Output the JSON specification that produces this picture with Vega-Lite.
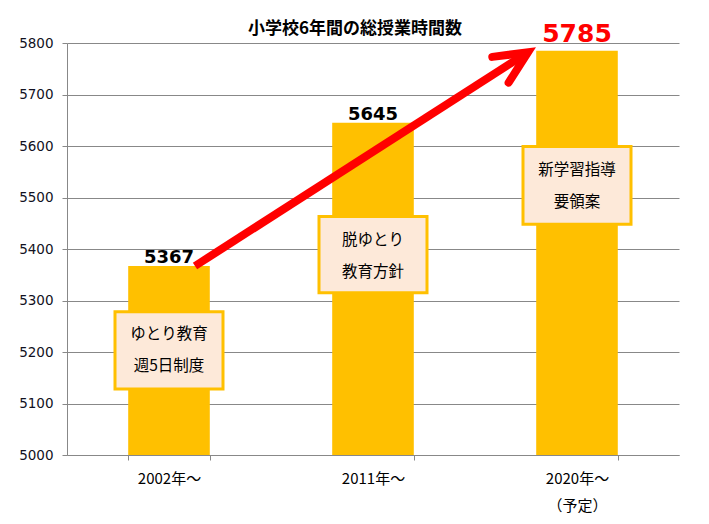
{
  "$schema": "https://vega.github.io/schema/vega-lite/v6.json",
  "width": 612,
  "height": 412,
  "autosize": {"type": "none"},
  "padding": {"left": 67, "top": 43, "right": 30, "bottom": 69},
  "background": "white",
  "title": {
    "text": "小学校6年間の総授業時間数",
    "font": "Noto Sans CJK JP",
    "fontSize": 17,
    "fontWeight": "bold",
    "color": "#000000",
    "anchor": "middle",
    "frame": "group",
    "dx": -18,
    "dy": 22,
    "offset": 6
  },
  "config": {
    "view": {"stroke": null},
    "axisY": {
      "title": null,
      "grid": true,
      "gridColor": "#888888",
      "domainColor": "#888888",
      "tickColor": "#888888",
      "tickSize": 5,
      "labelFont": "DejaVu Sans",
      "labelFontSize": 13.5,
      "labelColor": "#111122",
      "labelPadding": 9
    },
    "axisX": {
      "title": null,
      "grid": false,
      "labelAngle": 0,
      "domainColor": "#888888",
      "tickColor": "#888888",
      "tickSize": 5,
      "tickBand": "extent",
      "labelFont": "Noto Sans CJK JP",
      "labelFontSize": 15,
      "labelColor": "#000000",
      "labelPadding": 11,
      "labelLineHeight": 27
    }
  },
  "datasets": {
    "bars": [
      {"year": "2002年～", "hours": 5367, "note": "ゆとり教育\n週5日制度", "boxLow": 5128, "boxHigh": 5278, "noteY": 5203},
      {"year": "2011年～", "hours": 5645, "note": "脱ゆとり\n教育方針", "boxLow": 5315, "boxHigh": 5463, "noteY": 5386},
      {"year": "2020年～", "hours": 5785, "note": "新学習指導\n要領案", "boxLow": 5448, "boxHigh": 5599, "noteY": 5523}
    ],
    "arrow": [
      {"from": "2002年～", "to": "2020年～", "start": 5367, "end": 5782}
    ]
  },
  "layer": [
    {
      "data": {"name": "bars"},
      "mark": {"type": "bar", "color": "#FFC000"},
      "encoding": {
        "x": {
          "field": "year",
          "type": "nominal",
          "scale": {"domain": ["2002年～", "2011年～", "2020年～"], "paddingInner": 0.6, "paddingOuter": 0.3},
          "axis": {"labelExpr": "datum.value == '2020年～' ? ['2020年～', '（予定）'] : datum.value"}
        },
        "y": {
          "field": "hours",
          "type": "quantitative",
          "scale": {"domain": [5000, 5800], "nice": false, "zero": false},
          "axis": {"values": [5000, 5100, 5200, 5300, 5400, 5500, 5600, 5700, 5800], "format": "d"}
        },
        "y2": {"datum": 5000}
      }
    },
    {
      "data": {"name": "arrow"},
      "mark": {"type": "rule", "color": "#FF0000", "strokeWidth": 8, "strokeCap": "butt", "xOffset": 26, "x2Offset": -49},
      "encoding": {
        "x": {"field": "from", "type": "nominal"},
        "x2": {"field": "to"},
        "y": {"field": "start", "type": "quantitative"},
        "y2": {"field": "end"}
      }
    },
    {
      "data": {"name": "arrow"},
      "mark": {
        "type": "point",
        "shape": "M-0.906,-0.423L0,0L-0.906,0.423",
        "size": 5184,
        "angle": 327.6,
        "filled": false,
        "color": "#FF0000",
        "opacity": 1,
        "strokeWidth": 8,
        "strokeCap": "round",
        "strokeJoin": "miter",
        "xOffset": -49
      },
      "encoding": {
        "x": {"field": "to", "type": "nominal"},
        "y": {"field": "end", "type": "quantitative"}
      }
    },
    {
      "data": {"name": "bars"},
      "mark": {"type": "bar", "width": 108, "fill": "#FDE9D9", "stroke": "#FFC000", "strokeWidth": 3},
      "encoding": {
        "x": {"field": "year", "type": "nominal"},
        "y": {"field": "boxLow", "type": "quantitative"},
        "y2": {"field": "boxHigh"}
      }
    },
    {
      "data": {"name": "bars"},
      "mark": {"type": "text", "font": "Noto Sans CJK JP", "fontSize": 15.5, "color": "#000000", "lineBreak": "\n", "lineHeight": 32, "baseline": "middle", "align": "center", "dy": -16},
      "encoding": {
        "x": {"field": "year", "type": "nominal"},
        "y": {"field": "noteY", "type": "quantitative"},
        "text": {"field": "note"}
      }
    },
    {
      "data": {"name": "bars"},
      "transform": [{"filter": "datum.year != '2020年～'"}],
      "mark": {"type": "text", "font": "DejaVu Sans", "fontSize": 18, "fontWeight": "bold", "color": "#000000", "baseline": "alphabetic", "dy": -3},
      "encoding": {
        "x": {"field": "year", "type": "nominal"},
        "y": {"field": "hours", "type": "quantitative"},
        "text": {"field": "hours", "type": "quantitative", "format": "d"}
      }
    },
    {
      "data": {"name": "bars"},
      "transform": [{"filter": "datum.year == '2020年～'"}],
      "mark": {"type": "text", "font": "DejaVu Sans", "fontSize": 25, "fontWeight": "bold", "color": "#FF0000", "baseline": "alphabetic", "dy": -9},
      "encoding": {
        "x": {"field": "year", "type": "nominal"},
        "y": {"field": "hours", "type": "quantitative"},
        "text": {"field": "hours", "type": "quantitative", "format": "d"}
      }
    }
  ]
}
